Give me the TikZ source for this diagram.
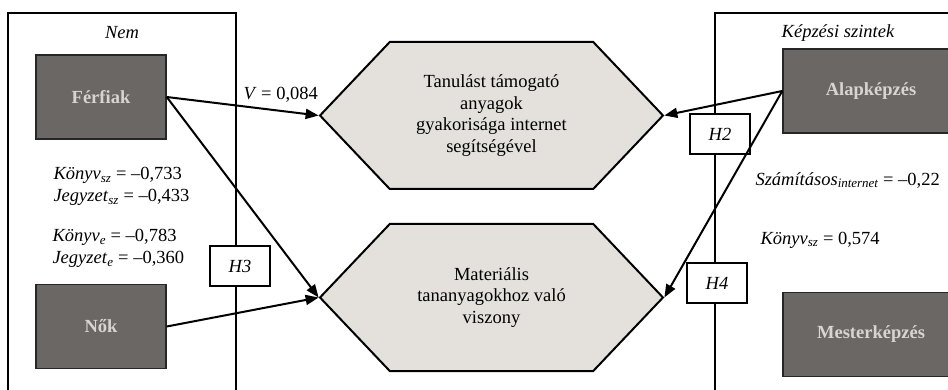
\documentclass[tikz,border=0pt]{standalone}
\usepackage{fontspec}
\setmainfont{Liberation Serif}
\usetikzlibrary{arrows.meta,shapes.symbols}
\definecolor{boxgray}{RGB}{107,103,100}
\definecolor{boxtext}{RGB}{216,213,209}
\definecolor{hexfill}{RGB}{228,225,221}
\newcommand{\basefont}{\fontsize{18.5}{21.7}\selectfont}
\newcommand{\idx}[1]{\textsubscript{\itshape #1}}
\tikzset{
  group/.style={draw=black!85, line width=1.5pt, fill=boxgray, text=boxtext, font=\basefont\bfseries, minimum height=84pt},
  target/.style={signal, signal to=west and east, signal pointer angle=93, draw, line width=2pt, fill=hexfill, minimum width=343pt, minimum height=147pt, align=center, inner sep=0pt},
  hyp/.style={draw, line width=1.5pt, fill=white, minimum width=60pt, minimum height=40pt, font=\basefont\itshape},
  link/.style={line width=2pt, -{Triangle[length=13pt,width=10pt]}}
}
\begin{document}
\begin{tikzpicture}[x=1pt,y=-1pt,font=\basefont]
\useasboundingbox (0,0) rectangle (948,390);
\draw [line width=1.2pt] (8,400) -- (8,13) -- (236,13) -- (236,400);
\draw [line width=1.2pt] (715,400) -- (715,13) -- (960,13);
\node [font=\basefont\itshape] (nem) at (122,33) {Nem};
\node [font=\basefont\itshape] (szint) at (838,33) {Képzési szintek};
% hypotheses
\node [hyp] (h3) at (240,266) {H3};
\node [hyp] (h2) at (720,134) {H2};
\node [hyp] (h4) at (717,283) {H4};
% outcomes
\node [target] (tanul) at (491.5,115.5) {Tanulást támogató\\anyagok\\gyakorisága internet\\segítségével};
\node [target] (mater) at (491.5,297.5) {Materiális\\tananyagokhoz való\\viszony};
% groups
\node [group, minimum width=130pt] (ferfi) at (101,97) {Férfiak};
\node [group, minimum width=130pt] (nok) at (101,326.5) {Nők};
\node [group, minimum width=176pt] (alap) at (871,91) {Alapképzés};
\node [group, minimum width=176pt] (mester) at (871,334.5) {Mesterképzés};
% coefficients
\node [anchor=west] (vval) at (240,95) {\textit{V} = 0,084};
\node [anchor=west, align=left] (nemsz) at (50,186.5) {\textit{Könyv}\idx{sz} = –0,733\\\textit{Jegyzet}\idx{sz} = –0,433};
\node [anchor=west, align=left] (neme) at (49,248.5) {\textit{Könyv}\idx{e} = –0,783\\\textit{Jegyzet}\idx{e} = –0,360};
\node [anchor=west] (szamit) at (752,180) {\textit{Számításos}\idx{internet} = –0,22};
\node [anchor=west] (konyv) at (757,240) {\textit{Könyv}\idx{sz} = 0,574};
% paths
\draw [link] (ferfi.east) -- (tanul.west);
\draw [link] (ferfi.east) -- (mater.west);
\draw [link] (nok.east) -- (mater.west);
\draw [link] (alap.west) -- (tanul.east);
\draw [link] (alap.west) -- (mater.east);
\end{tikzpicture}
\end{document}
